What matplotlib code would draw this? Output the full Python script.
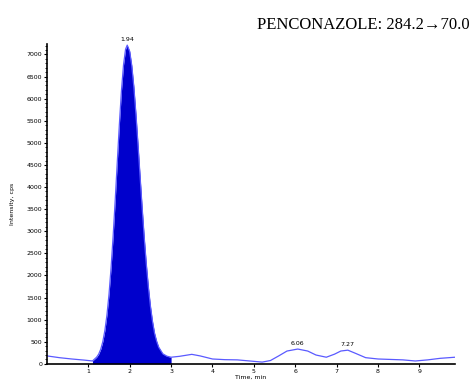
import matplotlib
matplotlib.use("Agg")
from matplotlib import pyplot as plt
from matplotlib.ticker import MultipleLocator
import numpy as np

# chromatogram, time (min) vs intensity (cps)
time = [0.0, 0.3, 0.6, 0.9, 1.1, 1.2, 1.25, 1.3, 1.35, 1.4, 1.45, 1.5, 1.55, 1.6,
        1.65, 1.7, 1.75, 1.8, 1.85, 1.9, 1.94, 2.0, 2.05, 2.1, 2.15, 2.2, 2.25,
        2.3, 2.35, 2.4, 2.45, 2.5, 2.55, 2.6, 2.65, 2.7, 2.8, 2.9, 3.0, 3.2,
        3.5, 3.7, 4.0, 4.3, 4.6, 4.9, 5.2, 5.4, 5.6, 5.8, 6.06, 6.3, 6.5,
        6.75, 6.95, 7.1, 7.27, 7.45, 7.7, 8.0, 8.3, 8.6, 8.9, 9.2, 9.5, 9.86]
intensity = [180, 140, 110, 85, 65, 150, 219, 330, 503, 754, 1105, 1576, 2177,
             2897, 3707, 4570, 5416, 6173, 6761, 7118, 7210, 7068, 6745, 6265,
             5657, 4970, 4251, 3540, 2870, 2269, 1746, 1312, 965, 695, 514, 378,
             227, 173, 150, 170, 215, 180, 110, 95, 90, 65, 40, 75, 180, 290,
             335, 290, 200, 150, 220, 290, 310, 240, 140, 110, 100, 90, 65, 90,
             125, 150]

peak_labels = ["1.94", "6.06", "7.27"]
peak_times = [1.94, 6.06, 7.27]
peak_heights = [7210, 335, 310]

t = np.array(time)
y = np.array(intensity)

fig = plt.figure(figsize=(4.74, 3.81), dpi=100)
ax = fig.add_axes([0.099, 0.045, 0.861, 0.84])

# integrated main peak
mask = (t >= 1.1) & (t <= 3.0)
ax.fill_between(t[mask], 0, y[mask], color="#0000cc", lw=0)
ax.plot([1.1, 3.9], [0, 0], ls="--", color="black", lw=0.6, dashes=(2, 2))
ax.plot(t, y, color="#5a5aff", lw=0.9)

for lab, pt, ph in zip(peak_labels, peak_times, peak_heights):
    ax.text(pt, ph + 60, lab, ha="center", va="bottom", fontsize=4.5)

ax.set_xlim(0, 9.86)
ax.set_ylim(0, 7240)
ax.yaxis.set_major_locator(MultipleLocator(500))
ax.yaxis.set_minor_locator(MultipleLocator(100))
ax.set_xticks([1, 2, 3, 4, 5, 6, 7, 8, 9])
ax.tick_params(axis="both", labelsize=4.5, length=2.5, width=0.8, pad=1)
ax.tick_params(axis="y", which="minor", length=1.5, width=0.6)
ax.spines["top"].set_visible(False)
ax.spines["right"].set_visible(False)
ax.spines["left"].set_linewidth(1.2)
ax.spines["bottom"].set_linewidth(1.2)

ax.set_xlabel("Time, min", fontsize=4.5, labelpad=0.5)
ax.set_ylabel("Intensity, cps", fontsize=4.5, labelpad=8)

fig.text(0.99, 0.935, "PENCONAZOLE: 284.2\u219270.0", ha="right", va="center",
         fontsize=12, family=["Liberation Serif", "DejaVu Serif"])

fig.savefig("out.png", dpi=100)
